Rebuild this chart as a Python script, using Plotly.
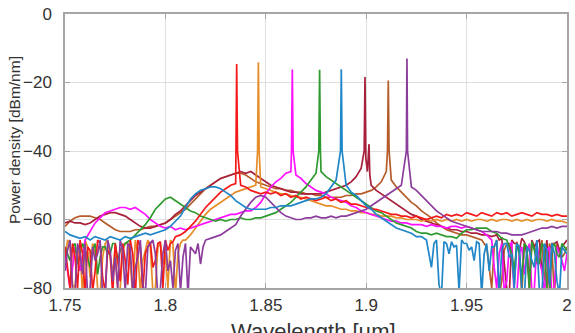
import numpy as np
import plotly.graph_objects as go

# sample wavelengths of the spectra (um)
WL = np.round(1.75 + 0.0025 * np.arange(101), 4)
HALF = 0.00125  # extra noise samples sit half way between grid samples

RED = [
 -68, -80, -71, -66, -82, -69, -75, -67, -81, -70,
 -67, -78, -72, -66, -83, -68, -70, -66.5, -72, -66.5,
 -66, -67, -65, -64.5, -63.5, -62, -60.5, -58.5, -56.5, -55,
 -53.5, -52, -51, -50, -49.5, -50, -50.5, -51.5, -52, -52.5,
 -52, -52.5, -52, -53, -52.5, -53.5, -53, -54, -53.5, -54,
 -54.5, -54, -53.5, -54.5, -54, -55, -54.5, -55.5, -55.5, -56,
 -56.5, -57, -57, -57.5, -58, -58.5, -58.5, -59, -59, -59.5,
 -59, -59.5, -60, -59.5, -59, -59.5, -58.5, -59, -58.5, -59,
 -58, -58.5, -59, -58, -58.5, -59, -58, -58.5, -58, -59,
 -58.5, -58, -58.5, -59, -58, -58.5, -58.5, -59, -58.5, -59,
 -59]
ORANGE = [
 -72, -67, -80, -69, -66, -77, -70, -82, -67, -71,
 -68, -80, -67, -73, -66, -81, -69, -68, -80, -67,
 -70, -66, -82, -67, -66, -64.5, -62.5, -60.5, -58.5, -57,
 -56, -55, -54, -53, -52, -51.5, -51, -50.5, -50, -50.5,
 -51, -51.5, -52, -52.5, -52.5, -53, -53.5, -53.5, -54, -54.5,
 -55, -55.5, -56, -56, -56.5, -57, -57, -57.5, -57.5, -58,
 -58, -58.5, -58.5, -59, -59, -59, -59.5, -59.5, -60, -60,
 -60, -60.5, -60, -60.5, -60, -60.5, -60, -60.5, -60, -60.5,
 -60, -60.5, -60, -60, -60.5, -60, -60.5, -60, -60, -60.5,
 -60, -60.5, -60, -60.5, -60, -60, -60.5, -60, -60.5, -60.5,
 -61]
MAGENTA = [
 -70, -80, -68, -75, -66, -63.5, -61, -59.5, -58, -57.5,
 -57, -56.5, -56.5, -57, -56.5, -57.5, -58.5, -60, -61, -62,
 -62.5, -62, -63, -62.5, -63, -62.5, -62, -61.5, -61, -60.5,
 -60, -59.5, -59, -58.5, -58.5, -58, -57.5, -57.5, -56.5, -55,
 -52.5, -50.5, -49, -48, -46.5, -46, -47, -48, -49.5, -50.5,
 -51.5, -52, -52.5, -53.5, -54, -54.5, -55, -56, -56.5, -57.5,
 -58, -58.5, -59, -59.5, -60, -60.5, -60.5, -61, -61, -61.5,
 -61.5, -61.5, -62, -61.5, -62, -62, -62.5, -62, -62, -62.5,
 -62, -62.5, -63, -63.5, -64.5, -66, -80, -67, -78, -66.5,
 -82, -68, -70, -81, -67, -75, -69, -83, -68, -72,
 -70]
GREEN = [
 -68, -72, -67, -70, -69, -74, -67, -71, -68, -70,
 -67, -69, -67, -66, -64.5, -63, -61.5, -59.5, -57, -55.5,
 -54, -53.5, -54.5, -55.5, -56.5, -57.5, -58, -59, -59.5, -60,
 -60.5, -60, -60.5, -60, -60, -59.5, -60, -60, -59.5, -59.5,
 -59, -58.5, -58, -57, -56, -55, -53.5, -52, -50.5, -48.5,
 -46.5, -46, -47.5, -48.5, -49.5, -50.5, -51.5, -52.5, -53.5, -54.5,
 -55.5, -56.5, -57.5, -58, -59, -60, -61, -61.5, -62, -62.5,
 -63.5, -64, -64, -64.5, -64, -64.5, -65, -65, -65.5, -64,
 -63, -63, -62.5, -62.5, -62.5, -63.5, -64, -65.5, -66, -70,
 -67, -78, -68, -66.5, -72, -67, -80, -68, -70, -67,
 -69]
BLUE = [
 -63.5, -64.5, -65, -65.5, -65, -66, -65, -65.5, -66, -65,
 -65.5, -66, -65, -65.5, -65, -64.5, -64, -64.5, -64, -63.5,
 -63, -62, -60.5, -59, -56.5, -54, -52.5, -51.5, -51, -50.5,
 -50.5, -51, -52, -53, -54.5, -55.5, -56.5, -57, -57, -57,
 -57, -56.5, -56.5, -56, -56, -56, -55.5, -55, -54.5, -54,
 -54, -53.5, -52.5, -50.5, -48.5, -48, -50, -52, -53, -54.5,
 -56, -57, -58.5, -59.5, -60.5, -61.5, -62.5, -63, -63.5, -64,
 -65, -65, -66, -74, -66, -82, -67, -66.5, -67.5, -66,
 -67, -68, -66.5, -82, -67, -68, -66, -69, -67, -70,
 -67, -80, -68, -72, -66, -82, -69, -67, -78, -68,
 -70]
CRIMSON = [
 -61, -60.5, -61, -61, -61.5, -61, -60, -59, -58.5, -58,
 -58, -58.5, -59, -60, -61, -62, -62.5, -62.5, -62, -61.5,
 -61, -60, -58.5, -57.5, -56, -54.5, -53, -52, -51, -50,
 -49, -48, -47.5, -47, -46.5, -46, -46.5, -46, -47, -48,
 -49, -50, -50.5, -51, -51.5, -52, -52, -52.5, -52.5, -52.5,
 -52.5, -52.5, -52, -51.5, -51, -50.5, -50, -49, -47.5, -45,
 -46, -50, -51.5, -52.5, -53.5, -54.5, -55.5, -56.5, -57.5, -58.5,
 -59, -60, -60.5, -61, -61.5, -62, -62.5, -63, -63, -63.5,
 -63.5, -64, -64, -64.5, -64.5, -65, -64.5, -65.5, -80, -66,
 -67, -65.5, -70, -66, -66.5, -75, -66, -67, -66.5, -68,
 -66]
BROWN = [
 -62, -60.5, -59.5, -59, -59, -59, -59.5, -60, -61, -62,
 -63, -63.5, -63.5, -63.5, -63, -63, -62.5, -62, -62, -61.5,
 -61, -60, -59, -58, -57, -55.5, -54, -52.5, -51, -50,
 -49, -48, -47.5, -47, -46.5, -46.5, -47, -48, -49, -49.5,
 -50, -50.5, -51, -51, -51.5, -51.5, -52, -52, -52.5, -52.5,
 -53, -53, -53.5, -53.5, -53.5, -53.5, -53, -53, -52.5, -52.5,
 -52, -51.5, -50.5, -49, -46, -48.5, -50.5, -52, -53.5, -55,
 -56, -57.5, -58.5, -59.5, -61, -62, -63, -63.5, -64, -64.5,
 -64.5, -65, -65.5, -66, -68, -80, -66, -78, -67, -70,
 -66.5, -82, -68, -67, -73, -66, -80, -69, -67, -71,
 -68]
PURPLE = [
 -75, -66, -82, -70, -67, -80, -72, -66, -83, -69,
 -71, -66, -81, -68, -74, -66, -82, -67, -70, -80,
 -66, -72, -69, -81, -67, -68, -70, -73, -66, -65.5,
 -65, -64.5, -63.5, -62.5, -61.5, -59, -57, -55, -53.5, -53,
 -53.5, -55, -56.5, -58, -59, -59.5, -60, -60, -59.5, -59.5,
 -59, -59.5, -59.5, -59, -59.5, -59, -59, -58.5, -58, -57.5,
 -57, -56, -55, -54, -53, -52, -51, -50, -47, -50.5,
 -51.5, -53, -54.5, -56, -57.5, -58.5, -59.5, -60.5, -61, -61.5,
 -62, -62.5, -63, -63.5, -63.5, -63.5, -63.5, -64, -64, -64.5,
 -64.5, -64.5, -64, -63.5, -63, -62.5, -62.5, -62, -62.5, -62,
 -62]

# extra noise-floor samples between grid points: (first grid index, values)
RED_MID = (0, [-74, -67, -80, -70, -68, -81, -66, -77, -69, -82, -72,
               -67, -79, -70, -66, -81, -68, -74, -67, -80, -69, -66.5])
ORANGE_MID = (0, [-66, -79, -70, -82, -68, -67, -80, -71, -66, -76, -81, -69,
                  -67, -82, -70, -72, -66, -81, -68, -73, -80, -67, -70, -66])
PURPLE_MID = (0, [-69, -81, -67, -76, -82, -68, -70, -83, -66, -78, -80, -69, -67, -82,
                  -71, -79, -68, -66, -83, -70, -75, -80, -67, -71, -82, -69, -67, -68])
MAGENTA_MID = (85, [-74, -70, -81, -68, -83, -70, -76, -67, -80, -72, -82, -68, -79, -70, -75])
GREEN_MID_L = (0, [-70, -68, -73, -67, -71, -69, -76, -68, -70, -67, -72, -68])
GREEN_MID_R = (88, [-68, -75, -70, -67, -80, -69, -73, -68, -82, -67, -71, -68])
BLUE_MID = (72, [-70, -67, -79, -66.5, -70, -68, -81, -67, -69, -72, -67, -70, -75, -68,
                 -82, -67, -71, -80, -68, -83, -69, -74, -81, -67, -79, -70, -82, -69])
BROWN_MID = (83, [-67, -74, -68, -82, -69, -67, -79, -70, -67, -81, -68, -70, -77, -67, -82, -69, -70])
CRIMSON_MID = (86, [-66, -72, -82, -67, -69, -66.5, -78, -68, -66, -71, -80, -67, -69, -67])

# laser lines (wavelength um, power dBm/nm)
RED_PK_WL, RED_PK = [1.8351, 1.8355, 1.8359], [-40, -14.6, -40]
ORANGE_PK_WL, ORANGE_PK = [1.8459, 1.8463, 1.8467], [-40, -14.1, -40]
MAGENTA_PK_WL, MAGENTA_PK = [1.8628, 1.8632, 1.8636], [-40, -16.2, -40]
GREEN_PK_WL, GREEN_PK = [1.8764, 1.8768, 1.8772], [-40, -16.3, -40]
BLUE_PK_WL, BLUE_PK = [1.8872, 1.8876, 1.8880], [-40, -16.1, -40]
CRIMSON_PK_WL, CRIMSON_PK = [1.8990, 1.8994, 1.8998, 1.9006, 1.9011, 1.9014, 1.9018], [-40, -18.4, -42, -46, -42, -38, -47]
BROWN_PK_WL, BROWN_PK = [1.9106, 1.9110, 1.9114], [-40, -19.4, -40]
PURPLE_PK_WL, PURPLE_PK = [1.9200, 1.9203, 1.9206], [-40, -13.0, -40]

X_TICKS = [1.75, 1.8, 1.85, 1.9, 1.95, 2.0]
X_TICK_TEXT = ["1.75", "1.8", "1.85", "1.9", "1.95", "2"]
Y_TICKS = [-80, -60, -40, -20, 0]
X_TITLE = "Wavelength [µm]"
Y_TITLE = "Power density [dBm/nm]"

SERIES = [
    (BROWN, [BROWN_MID], BROWN_PK_WL, BROWN_PK, "#b65c2a"),
    (CRIMSON, [CRIMSON_MID], CRIMSON_PK_WL, CRIMSON_PK, "#a8203c"),
    (ORANGE, [ORANGE_MID], ORANGE_PK_WL, ORANGE_PK, "#e68d28"),
    (MAGENTA, [MAGENTA_MID], MAGENTA_PK_WL, MAGENTA_PK, "#ff10ff"),
    (GREEN, [GREEN_MID_L, GREEN_MID_R], GREEN_PK_WL, GREEN_PK, "#2f9a2f"),
    (RED, [RED_MID], RED_PK_WL, RED_PK, "#f51a1a"),
    (PURPLE, [PURPLE_MID], PURPLE_PK_WL, PURPLE_PK, "#8c3c9c"),
    (BLUE, [BLUE_MID], BLUE_PK_WL, BLUE_PK, "#1f86c8"),
]


def merge(vals, mids, pk_wl, pk_v):
    lo, hi = min(pk_wl), max(pk_wl)
    pts = [(w, v) for w, v in zip(WL, vals) if not (lo <= w <= hi)]
    for start, mv in mids:
        pts += [(WL[start + k] + HALF, v) for k, v in enumerate(mv)]
    pts += list(zip(pk_wl, pk_v))
    pts.sort()
    return [p[0] for p in pts], [p[1] for p in pts]


fig = go.Figure()
for vals, mids, pw, pv, col in SERIES:
    x, y = merge(vals, mids, pw, pv)
    fig.add_trace(go.Scatter(x=x, y=y, mode="lines",
                             line=dict(color=col, width=1.7), showlegend=False))

FONT = "Liberation Sans, Arial, sans-serif"
TXT = "#333333"
axis_common = dict(showline=True, mirror="ticks", linecolor="#a6a6a6", linewidth=1.5,
                   ticks="inside", ticklen=5, tickcolor="#a6a6a6",
                   showgrid=True, gridcolor="#dedede", gridwidth=1, zeroline=False,
                   automargin=False,
                   tickfont=dict(family=FONT, size=17, color=TXT))

fig.update_layout(
    width=575, height=333,
    margin=dict(l=65, r=8, t=14, b=45),
    paper_bgcolor="white", plot_bgcolor="white",
    xaxis=dict(range=[1.75, 2.0], tickvals=X_TICKS, ticktext=X_TICK_TEXT,
               ticklabelstandoff=1, **axis_common),
    yaxis=dict(range=[-80, 0], tickvals=Y_TICKS, ticklabelstandoff=8, **axis_common),
    annotations=[
        dict(text=X_TITLE, xref="paper", yref="paper", x=0.496, y=-0.106,
             xanchor="center", yanchor="top", showarrow=False,
             font=dict(family=FONT, size=22, color=TXT)),
        dict(text=Y_TITLE, xref="paper", yref="paper", x=-0.1016, y=0.54,
             xanchor="center", yanchor="middle", textangle=-90, showarrow=False,
             font=dict(family=FONT, size=15.5, color=TXT)),
    ],
)

fig.write_html("out.html")
